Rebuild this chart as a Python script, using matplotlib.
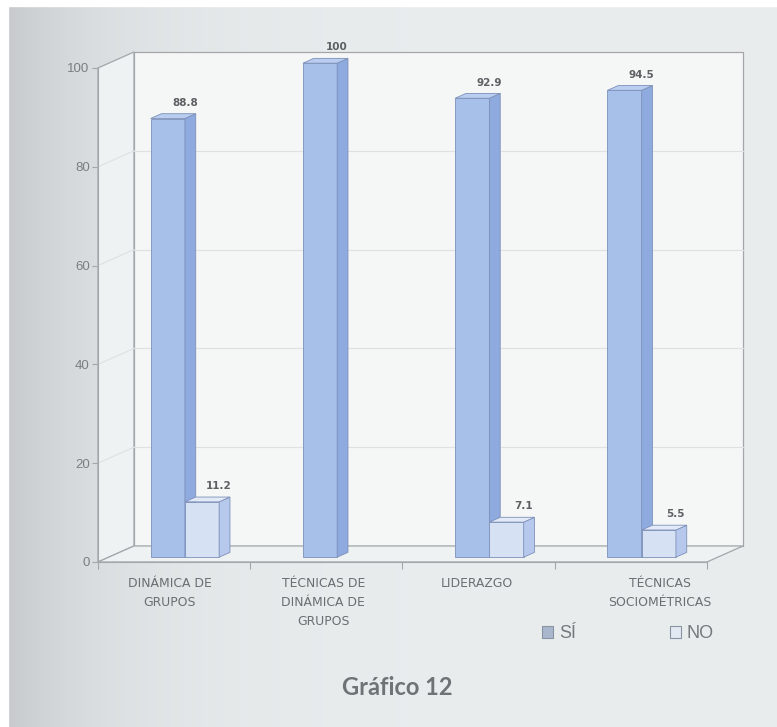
import numpy as np
import matplotlib
matplotlib.use('Agg')
import matplotlib.pyplot as plt
import matplotlib.patches as patches

# data
categories = ['DINÁMICA DE\nGRUPOS', 'TÉCNICAS DE\nDINÁMICA DE\nGRUPOS',
              'LIDERAZGO', 'TÉCNICAS\nSOCIOMÉTRICAS']
si_values = [88.8, 100, 92.9, 94.5]
no_values = [11.2, 0, 7.1, 5.5]
series_names = ['SÍ', 'NO']
y_ticks = [0, 20, 40, 60, 80, 100]

plt.rcParams['font.family'] = ['Liberation Sans', 'DejaVu Sans']

fig = plt.figure(figsize=(7.77, 7.27), dpi=100)

# scanned page background, darker on the left
bg = fig.add_axes([0, 0, 1, 1], zorder=-10)
grad = np.linspace(0, 1, 400)
grad = 1 - np.exp(-grad * 7)
row = np.array([196, 200, 203]) / 255 * (1 - grad[:, None]) + np.array([233, 237, 238]) / 255 * grad[:, None]
bg.imshow(row[None, :, :], aspect='auto', extent=[0, 1, 0, 1])
bg.axhspan(0.992, 1, color='white')
bg.axvspan(0, 0.01, color='white')
bg.set_xlim(0, 1)
bg.set_ylim(0, 1)
bg.axis('off')

ax = fig.add_axes([0.1261, 0.2270, 0.7838, 0.6795])
ax.set_xlim(0, 4)
ax.set_ylim(0, 100)
ax.patch.set_alpha(0)

dx, dy = 0.2365, 3.24   # depth of the box
line_c = '#a3a7a9'
grid_c = '#dde1e2'

def poly(pts, fc, ec, lw=0.7, z=1):
    ax.add_patch(patches.Polygon(pts, closed=True, facecolor=fc, edgecolor=ec,
                                 linewidth=lw, clip_on=False, zorder=z))

n = len(categories)
# walls
poly([(dx, dy), (n + dx, dy), (n + dx, 100 + dy), (dx, 100 + dy)], '#f5f7f7', line_c, 0.9, 0)
poly([(0, 0), (dx, dy), (dx, 100 + dy), (0, 100)], '#eff2f2', line_c, 0.9, 0)
poly([(0, 0), (n, 0), (n + dx, dy), (dx, dy)], '#eff2f2', line_c, 0.9, 0)
for t in y_ticks[1:-1]:
    ax.plot([dx, n + dx], [t + dy, t + dy], color=grid_c, lw=0.8, zorder=0.5, clip_on=False)
    ax.plot([0, dx], [t, t + dy], color=grid_c, lw=0.8, zorder=0.5, clip_on=False)

# bars
w = 0.225
z0, z1 = 0.3, 0.6
styles = [('#a7c0ea', '#8eaadf', '#b9cdf0'), ('#d6e1f4', '#b6c8ec', '#e2eaf7')]
edge = '#7d90b8'
for i in range(n):
    for s, vals in enumerate([si_values, no_values]):
        v = vals[i]
        if v <= 0:
            continue
        x0 = i + 0.5 - w + s * w
        front, side, top = styles[s]
        poly([(x0 + z0 * dx, z0 * dy), (x0 + w + z0 * dx, z0 * dy),
              (x0 + w + z0 * dx, v + z0 * dy), (x0 + z0 * dx, v + z0 * dy)], front, edge, 0.6, 2 + s)
        poly([(x0 + w + z0 * dx, z0 * dy), (x0 + w + z1 * dx, z1 * dy),
              (x0 + w + z1 * dx, v + z1 * dy), (x0 + w + z0 * dx, v + z0 * dy)], side, edge, 0.6, 2 + s)
        poly([(x0 + z0 * dx, v + z0 * dy), (x0 + w + z0 * dx, v + z0 * dy),
              (x0 + w + z1 * dx, v + z1 * dy), (x0 + z1 * dx, v + z1 * dy)], top, edge, 0.6, 2 + s)
        ax.text(x0 + w + 0.3 * dx, v + z1 * dy + 1.2, '{:g}'.format(v),
                ha='center', va='bottom', fontsize=7.5, fontweight='bold',
                color='#5d6163', zorder=5, clip_on=False, family=['DejaVu Sans'])

# axes, ticks
for side in ['top', 'right']:
    ax.spines[side].set_visible(False)
ax.spines['left'].set_color(line_c)
ax.spines['bottom'].set_color(line_c)
ax.spines['left'].set_zorder(0.6)
ax.spines['bottom'].set_zorder(0.6)
ax.set_yticks(y_ticks)
ax.set_yticklabels([str(t) for t in y_ticks])
ax.tick_params(axis='y', length=4, color=line_c, labelcolor='#7a7e80', labelsize=9.5, pad=2)
ax.set_xticks(range(n + 1))
ax.set_xticklabels([])
ax.tick_params(axis='x', which='major', length=5, color=line_c)

label_x = [0.47, 1.48, 2.49, 3.69]
for lx, lab in zip(label_x, categories):
    ax.text(lx, -3.0, lab, ha='center', va='top', fontsize=8.9, color='#6a6e70',
            linespacing=1.6, clip_on=False, family=['DejaVu Sans'])

# legend
handles = [patches.Patch(facecolor='#a9b6cc', edgecolor='#8a93a3', lw=0.8),
           patches.Patch(facecolor='#e3e9f2', edgecolor='#8a93a3', lw=0.8)]
leg = fig.legend(handles, series_names, loc='center', bbox_to_anchor=(0.808, 0.128),
                 ncol=2, frameon=False, fontsize=13, handlelength=0.65, handleheight=0.65,
                 handletextpad=0.3, columnspacing=5.2)
for t in leg.get_texts():
    t.set_color('#75797b')

fig.text(0.511, 0.054, 'Gráfico 12', ha='center', va='center', fontsize=17,
         color='#6f7375', family=['Lato', 'DejaVu Sans'], fontweight='bold')

fig.savefig('out.png', dpi=100)
